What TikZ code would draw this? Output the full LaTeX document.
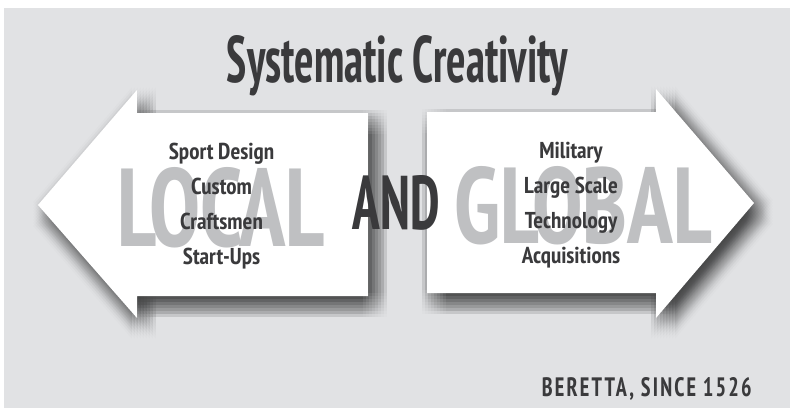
\documentclass[tikz,border=0pt]{standalone}
\usepackage{fontspec}
\setmainfont{PT Sans Narrow}
\newfontfamily\itemfont{PT Sans Narrow}
\newfontfamily\creditfont[LetterSpace=10]{PT Sans Narrow}
\usepackage{tikz}
\usetikzlibrary{positioning}
\definecolor{bggray}{HTML}{E1E2E4}
\definecolor{wordgray}{HTML}{BFC0C2}
\definecolor{inkgray}{HTML}{3A3A3C}
% outlines of the two arrows
\newcommand{\localshape}{(38,205) -- (137,90) -- (137,113) -- (368,113) -- (368,296)
                         -- (137,296) -- (137,318) -- cycle}
\newcommand{\globalshape}{(427,112) -- (656,112) -- (656,89) -- (754,203) -- (656,318)
                          -- (656,293) -- (427,293) -- cycle}
\begin{document}
\begin{tikzpicture}[x=1pt,y=-1pt,node distance=35pt,
                    item/.style={font=\itemfont\bfseries\fontsize{23}{23}\selectfont,text=inkgray,
                                 inner sep=0pt,text height=16pt,text depth=5pt},
                    bigword/.style={font=\bfseries,text=wordgray,inner sep=0pt,anchor=north},
                    shadowlayer/.style={fill=black,opacity=0.013,shift={(7,9)}}]

 % page and background
 \useasboundingbox (0,0) rectangle (790,408);
 \fill[white] (0,0) rectangle (790,408);
 \fill[bggray] (4,8) rectangle (790,408);

 % soft shadows (many faint copies), then the arrows
 \foreach \dx in {-12,-9,...,12}
   \foreach \dy in {-12,-9,...,12} {
     \path[shadowlayer,shift={(\dx,\dy)}] \localshape;
     \path[shadowlayer,shift={(\dx,\dy)}] \globalshape;
   }
 \fill[white] \localshape;
 \fill[white] \globalshape;

 \node[font=\bfseries,text=inkgray,inner sep=0pt,anchor=north]
      (title) at (397.5,35) {\resizebox{341pt}{47pt}{Systematic Creativity}};

 \node[bigword] (local) at (221.5,167) {\resizebox{207pt}{79pt}{LOCAL}};
 \node[bigword] (global) at (583.5,166) {\resizebox{257pt}{77pt}{GLOBAL}};
 \node[bigword,text=inkgray] (and) at (396.5,175) {\resizebox{87pt}{54pt}{AND}};

 % local side
 \node[item] (sport) at (221.5,153.5) {Sport Design};
 \node[item] (custom) [below of=sport] {Custom};
 \node[item] (crafts) [below of=custom] {Craftsmen};
 \node[item] (startups) [below of=crafts] {Start-Ups};

 % global side
 \node[item] (military) at (571,152.5) {Military};
 \node[item] (large) [below of=military] {Large Scale};
 \node[item] (tech) [below of=large] {Technology};
 \node[item] (acq) [below of=tech] {Acquisitions};

 \node[font=\creditfont\bfseries,text=inkgray,inner sep=0pt,anchor=north east]
      (credit) at (752,377) {\resizebox{210pt}{19pt}{BERETTA, SINCE 1526}};

\end{tikzpicture}
\end{document}
